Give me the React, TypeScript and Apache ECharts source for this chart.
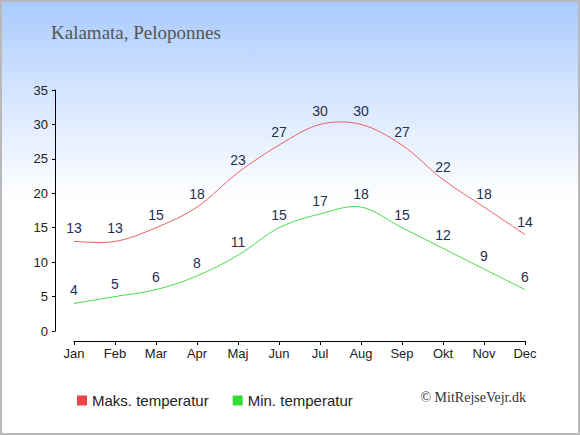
import React, { useEffect, useRef } from "react";
import * as echarts from "echarts";

const months = ["Jan", "Feb", "Mar", "Apr", "Maj", "Jun", "Jul", "Aug", "Sep", "Okt", "Nov", "Dec"];
const maxTemp = [13, 13, 15, 18, 23, 27, 30, 30, 27, 22, 18, 14];
const minTemp = [4, 5, 6, 8, 11, 15, 17, 18, 15, 12, 9, 6];
const yTicks = [0, 5, 10, 15, 20, 25, 30, 35];
const titleText = "Kalamata, Peloponnes";
const maxName = "Maks. temperatur";
const minName = "Min. temperatur";
const copyright = "© MitRejseVejr.dk";

function splineSeries(values: number[], color: string) {
  return {
    type: "custom",
    silent: true,
    data: values.map((v, i) => [i, v]),
    renderItem: (params: any, api: any) => {
      if (params.dataIndex !== 0) return null;
      const pts = values.map((v, i) => api.coord([i, v]));
      const n = pts.length;
      const P = (i: number) => pts[Math.max(0, Math.min(n - 1, i))];
      let d = `M${pts[0][0]},${pts[0][1]}`;
      for (let i = 0; i < n - 1; i++) {
        const p0 = P(i - 1), p1 = P(i), p2 = P(i + 1), p3 = P(i + 2);
        const c1x = p1[0] + (p2[0] - p0[0]) / 6;
        const c1y = p1[1] + (p2[1] - p0[1]) / 6;
        const c2x = p2[0] - (p3[0] - p1[0]) / 6;
        const c2y = p2[1] - (p3[1] - p1[1]) / 6;
        d += ` C${c1x},${c1y} ${c2x},${c2y} ${p2[0]},${p2[1]}`;
      }
      return {
        type: "path",
        shape: { pathData: d },
        style: { fill: "none", stroke: color, lineWidth: 1 },
      };
    },
  };
}

export default function App() {
  const ref = useRef<HTMLDivElement>(null);
  useEffect(() => {
    document.body.style.margin = "0";
    const chart = echarts.init(ref.current!, null, { renderer: "svg" });
    const labelStyle = {
      show: true,
      position: "top",
      distance: 5,
      color: "#1e2f52",
      fontSize: 14,
      fontFamily: "Liberation Sans, Arial, sans-serif",
    };
    chart.setOption({
      animation: false,
      backgroundColor: "transparent",
      title: {
        text: titleText,
        left: 49,
        top: 21,
        padding: 0,
        textStyle: {
          fontFamily: "Liberation Serif, Times New Roman, serif",
          fontSize: 19,
          fontWeight: "normal",
          color: "#555555",
        },
      },
      legend: {
        left: 75,
        top: 391,
        padding: 0,
        itemWidth: 10,
        itemHeight: 10,
        itemGap: 24,
        icon: "rect",
        textStyle: {
          fontFamily: "Liberation Sans, Arial, sans-serif",
          fontSize: 15,
          color: "#222222",
        },
        data: [
          { name: maxName, itemStyle: { color: "#ee4444", opacity: 1 } },
          { name: minName, itemStyle: { color: "#33dd33", opacity: 1 } },
        ],
      },
      graphic: [
        {
          type: "text",
          right: 52,
          top: 388,
          style: {
            text: copyright,
            font: "14px 'Liberation Serif', 'Times New Roman', serif",
            fill: "#333333",
          },
        },
      ],
      grid: { left: 72, right: 53, top: 88, bottom: 102, containLabel: false },
      xAxis: {
        type: "category",
        data: months,
        boundaryGap: false,
        offset: 10,
        axisLine: { onZero: false, lineStyle: { color: "#000", width: 1 } },
        axisTick: { alignWithLabel: true, length: 4, lineStyle: { color: "#000" } },
        axisLabel: {
          color: "#222",
          fontSize: 13,
          margin: 6,
          fontFamily: "Liberation Sans, Arial, sans-serif",
        },
        splitLine: { show: false },
      },
      yAxis: {
        type: "value",
        min: yTicks[0],
        max: yTicks[yTicks.length - 1],
        interval: 5,
        offset: 19,
        axisLine: { show: true, lineStyle: { color: "#000", width: 1 } },
        axisTick: { show: true, length: 3, lineStyle: { color: "#000" } },
        axisLabel: {
          color: "#222",
          fontSize: 13,
          margin: 7,
          fontFamily: "Liberation Sans, Arial, sans-serif",
        },
        splitLine: { show: false },
      },
      series: [
        {
          name: maxName,
          type: "line",
          data: maxTemp,
          symbol: "circle",
          symbolSize: 2,
          showSymbol: true,
          lineStyle: { width: 0, color: "rgba(0,0,0,0)" },
          itemStyle: { color: "rgba(0,0,0,0)" },
          label: labelStyle,
          z: 5,
        },
        {
          name: minName,
          type: "line",
          data: minTemp,
          symbol: "circle",
          symbolSize: 2,
          showSymbol: true,
          lineStyle: { width: 0, color: "rgba(0,0,0,0)" },
          itemStyle: { color: "rgba(0,0,0,0)" },
          label: labelStyle,
          z: 5,
        },
        splineSeries(maxTemp, "#f06060"),
        splineSeries(minTemp, "#44e044"),
      ],
    });
    return () => chart.dispose();
  }, []);
  return (
    <div
      style={{
        position: "absolute",
        left: 0,
        top: 0,
        width: 580,
        height: 435,
        boxSizing: "border-box",
        border: "2px solid #b9b9b9",
        background: "linear-gradient(to bottom, #a9cbfd 0%, #d6e6ff 22%, #ffffff 46%, #ffffff 100%)",
      }}
    >
      <div ref={ref} style={{ width: 576, height: 431 }} />
    </div>
  );
}
